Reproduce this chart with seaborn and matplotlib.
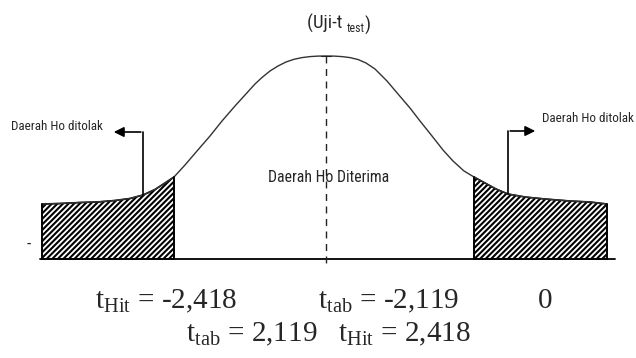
import numpy as np
import pandas as pd
import matplotlib.pyplot as plt
import seaborn as sns

# points, in picture units (x to the right, y downwards)
left_tail_x = [42, 60, 80, 97, 115, 130, 143, 155, 165, 174]
left_tail_y = [204, 203.5, 202.5, 202, 200.5, 198.5, 195, 189.5, 183, 177]
bell_left_x = [174, 185, 197, 210, 222, 235, 245, 255, 262, 270, 278, 286, 294, 302, 310, 318, 326]
bell_left_y = [177, 165, 151, 136, 121, 106, 95, 84, 77.5, 71, 66, 62, 59.3, 57.6, 56.6, 56.1, 56]
bell_right_x = [326, 334, 342, 350, 358, 366, 375, 387, 398, 410, 420, 432, 443, 453, 464, 474]
bell_right_y = [56, 56.1, 56.6, 57.6, 59.5, 63, 69, 81, 94, 108, 121, 136, 150, 161, 171, 177]
right_tail_x = [474, 485, 496, 508, 525, 545, 570, 590, 607]
right_tail_y = [177, 183, 189, 194, 197, 199, 201, 202, 204]
base_y = 259

t_hit_left = '-2,418'
t_tab_left = '-2,119'
t_tab_right = '2,119'
t_hit_right = '2,418'

sns.set_style('white')
plt.rcParams['hatch.linewidth'] = 1.5
plt.rcParams['mathtext.fontset'] = 'custom'
plt.rcParams['mathtext.rm'] = 'Liberation Serif'
narrow = ['Roboto Condensed', 'Roboto', 'DejaVu Sans']
serif = ['Liberation Serif', 'DejaVu Serif']

fig = plt.figure(figsize=(6.36, 3.58), dpi=100)
ax = fig.add_axes([0, 0, 1, 1])
ax.set_xlim(0, 636)
ax.set_ylim(358, 0)
ax.axis('off')

curve = pd.DataFrame({
    'x': left_tail_x + bell_left_x + bell_right_x + right_tail_x,
    'y': left_tail_y + bell_left_y + bell_right_y + right_tail_y,
})
sns.lineplot(data=curve, x='x', y='y', sort=False, color='#333333', lw=1.0, ax=ax)

# rejection regions
for tx, ty in [(left_tail_x, left_tail_y), (right_tail_x, right_tail_y)]:
    ax.fill_between(tx, ty, base_y, facecolor='white', edgecolor='black',
                    hatch='//////', lw=1.2)
    ax.plot([tx[0], tx[0]], [ty[0], base_y], color='black', lw=1.2)
    ax.plot([tx[-1], tx[-1]], [ty[-1], base_y], color='black', lw=1.2)

ax.plot([40, 615], [base_y, base_y], color='black', lw=1.3)
ax.plot([326, 326], [56, 263], color='#222222', lw=1, ls=(0, (5, 4)))
ax.plot([321, 331], [56, 56], color='#222222', lw=0.8)

# arrows
ax.plot([143, 143], [132, 195], color='black', lw=1.2)
ax.annotate('', xy=(111, 132), xytext=(143.6, 132),
            arrowprops=dict(arrowstyle='-|>', color='black', lw=1.2, mutation_scale=15))
ax.plot([508, 508], [131, 194], color='black', lw=1.2)
ax.annotate('', xy=(538, 131), xytext=(507.4, 131),
            arrowprops=dict(arrowstyle='-|>', color='black', lw=1.2, mutation_scale=15))

ax.text(11, 127, 'Daerah Ho ditolak', family=narrow, fontsize=9.4, ha='left', va='center')
ax.text(542, 118, 'Daerah Ho ditolak', family=narrow, fontsize=9.4, ha='left', va='center')
ax.text(329, 178, 'Daerah Ho Diterima', family=narrow, fontsize=11.3, ha='center', va='center')

t1 = ax.text(307, 29, '(Uji-t ', family=narrow, fontsize=13.5, ha='left', va='baseline')
t2 = ax.annotate('test', xy=(1, 0), xycoords=t1, xytext=(0, -1.5), textcoords='offset points',
                 family=narrow, fontsize=8.5, ha='left', va='bottom')
ax.annotate(')', xy=(1, 0), xycoords=t2, xytext=(0, 0.5), textcoords='offset points',
            family=narrow, fontsize=13.5, ha='left', va='bottom')
ax.text(27, 244, '-', family=narrow, fontsize=12.5, ha='left', va='center')

ax.text(95, 301, r't$_{\mathrm{Hit}}$ = ' + t_hit_left, family=serif, fontsize=21, ha='left', va='center')
ax.text(318, 301, r't$_{\mathrm{tab}}$ = ' + t_tab_left, family=serif, fontsize=21, ha='left', va='center')
ax.text(545, 301, '0', family=serif, fontsize=21, ha='center', va='center')
ax.text(186, 334, r't$_{\mathrm{tab}}$ = ' + t_tab_right, family=serif, fontsize=21, ha='left', va='center')
ax.text(338, 334, r't$_{\mathrm{Hit}}$ = ' + t_hit_right, family=serif, fontsize=21, ha='left', va='center')

fig.savefig('out.png', dpi=100)
